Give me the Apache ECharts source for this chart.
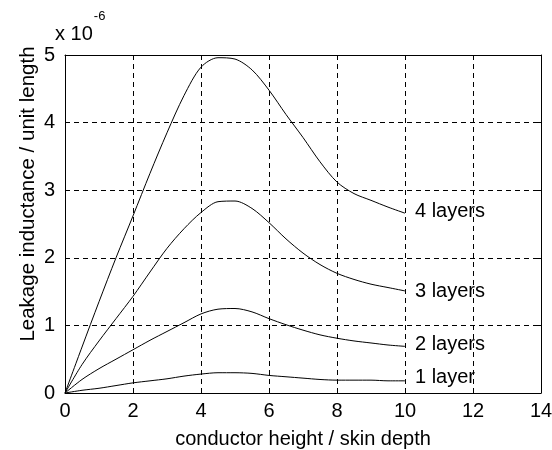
<!DOCTYPE html>
<html>
<head>
<meta charset="utf-8">
<script src="https://cdn.jsdelivr.net/npm/echarts@6/dist/echarts.min.js"></script>
<style>
  html, body { margin: 0; padding: 0; background: #fff; }
  #chart { width: 552px; height: 450px; }
</style>
</head>
<body>
<div id="chart"></div>
<script>
// conductor height / skin depth
const xs = [0, 0.5, 1, 1.5, 2, 2.5, 3, 3.5, 4, 4.5, 5, 5.5, 6, 6.5, 7, 7.5, 8, 8.5, 9, 9.5, 10];

// leakage inductance (x 1e-6)
const layers4 = [0, 0.68, 1.35, 2.0, 2.62, 3.25, 3.85, 4.4, 4.82, 4.96, 4.94, 4.78, 4.48, 4.12, 3.78, 3.42, 3.12, 2.95, 2.85, 2.75, 2.66];
const layers3 = [0, 0.42, 0.77, 1.1, 1.43, 1.79, 2.14, 2.43, 2.67, 2.83, 2.84, 2.73, 2.52, 2.28, 2.07, 1.9, 1.77, 1.68, 1.61, 1.56, 1.51];
const layers2 = [0, 0.2, 0.36, 0.5, 0.64, 0.78, 0.91, 1.04, 1.17, 1.24, 1.25, 1.2, 1.1, 1.01, 0.93, 0.86, 0.81, 0.77, 0.74, 0.71, 0.69];
const layers1 = [0, 0.04, 0.07, 0.11, 0.15, 0.18, 0.21, 0.25, 0.28, 0.3, 0.3, 0.29, 0.26, 0.24, 0.22, 0.2, 0.19, 0.19, 0.19, 0.18, 0.18];

const seriesNames = ["4 layers", "3 layers", "2 layers", "1 layer"];
const labelShift = [-2, 1, -2, -3];

const FONT = "Liberation Sans, Arial, sans-serif";
const pairs = (ys) => xs.map((x, i) => [x, ys[i]]);

// top / right edges of the box, ticks only
const frameAxis = (pos, isX) => ({
  type: "value",
  position: pos,
  min: 0,
  max: isX ? 14 : 5,
  interval: isX ? 2 : 1,
  axisLine: { show: true, onZero: false, lineStyle: { color: "#000", width: 1 } },
  axisTick: { show: true, inside: true, length: 5, lineStyle: { color: "#000" } },
  axisLabel: { show: false },
  splitLine: { show: false }
});

const chart = echarts.init(document.getElementById("chart"));
chart.setOption({
  animation: false,
  backgroundColor: "#fff",
  grid: { left: 65, right: 11, top: 55, bottom: 57, containLabel: false, outerBoundsMode: "none" },
  xAxis: [
    {
      type: "value",
      min: 0, max: 14, interval: 2,
      axisLine: { show: true, onZero: false, lineStyle: { color: "#000", width: 1 } },
      axisTick: { show: true, inside: true, length: 5, lineStyle: { color: "#000" } },
      axisLabel: { color: "#000", fontFamily: FONT, fontSize: 20, margin: 8 },
      splitLine: { show: true, lineStyle: { color: "#000", type: [5, 4], width: 1 } },
      name: "conductor height / skin depth",
      nameLocation: "middle",
      nameGap: 36,
      nameTextStyle: { color: "#000", fontFamily: FONT, fontSize: 20 }
    },
    frameAxis("top", true)
  ],
  yAxis: [
    {
      type: "value",
      min: 0, max: 5, interval: 1,
      axisLine: { show: true, onZero: false, lineStyle: { color: "#000", width: 1 } },
      axisTick: { show: true, inside: true, length: 5, lineStyle: { color: "#000" } },
      axisLabel: { color: "#000", fontFamily: FONT, fontSize: 20, margin: 10 },
      splitLine: { show: true, lineStyle: { color: "#000", type: [5, 4], width: 1 } }
    },
    frameAxis("right", false)
  ],
  graphic: [
    {
      type: "text",
      x: 28, y: 194,
      rotation: Math.PI / 2,
      style: {
        text: "Leakage inductance / unit length",
        fill: "#000", font: "20.5px " + FONT,
        align: "center", verticalAlign: "middle"
      }
    },
    {
      type: "text",
      x: 55, y: 10,
      style: {
        text: "{b|x 10}{s|-6}",
        rich: {
          b: { fill: "#000", font: "20px " + FONT, padding: [14, 0, 0, 0] },
          s: { fill: "#000", font: "13px " + FONT, verticalAlign: "top", padding: [0, 0, 10, 1] }
        }
      }
    }
  ],
  series: [layers4, layers3, layers2, layers1].map((ys, i) => ({
    name: seriesNames[i],
    type: "line",
    data: pairs(ys),
    smooth: 0.3,
    showSymbol: false,
    lineStyle: { color: "#000", width: 1 },
    endLabel: {
      show: true,
      formatter: seriesNames[i],
      distance: 10,
      offset: [0, labelShift[i]],
      color: "#000",
      fontFamily: FONT,
      fontSize: 20
    }
  }))
});
</script>
</body>
</html>
